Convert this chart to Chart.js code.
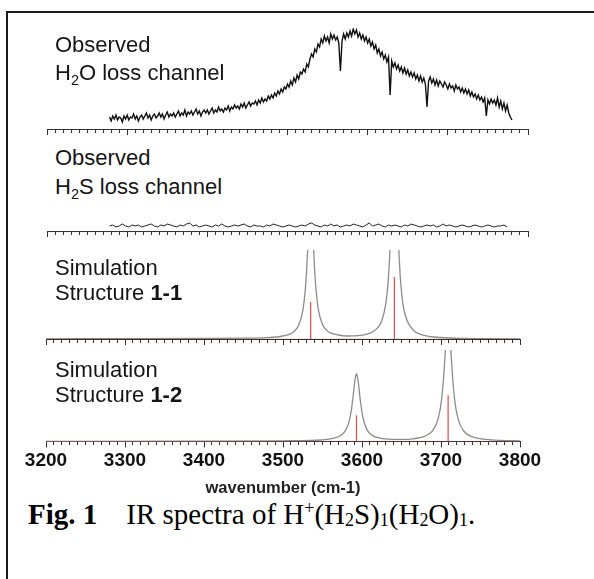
<!DOCTYPE html>
<html><head><meta charset="utf-8">
<script src="https://cdn.jsdelivr.net/npm/chart.js@4"></script>
<style>
html,body{margin:0;padding:0;background:#fff;width:594px;height:579px;overflow:hidden;position:relative;}
#frame{position:absolute;left:6px;top:11px;width:620px;height:620px;border-top:2px solid #1a1a1a;border-left:2px solid #1a1a1a;}
canvas{position:absolute;left:0;}
.lbl{position:absolute;left:55px;font-family:"Liberation Sans",Arial,sans-serif;font-size:22px;line-height:1;color:#151515;white-space:nowrap;}
.sb{font-size:0.66em;position:relative;top:0.33em;}
#cap{position:absolute;left:28px;top:500px;font-family:"Liberation Serif","Times New Roman",serif;font-size:29px;line-height:1;white-space:nowrap;color:#000;}
#cap sub{font-size:0.62em;vertical-align:-0.12em;line-height:0;}
#cap sup{font-size:0.62em;vertical-align:0.55em;line-height:0;}
</style></head>
<body>
<div id="frame"></div>
<canvas id="c1" width="594" height="150"></canvas>
<canvas id="c2" width="594" height="150"></canvas>
<canvas id="c3" width="594" height="150"></canvas>
<canvas id="c4" width="594" height="200"></canvas>
<div class="lbl" style="top:34px">Observed</div>
<div class="lbl" style="top:62px">H<span class="sb">2</span>O loss channel</div>
<div class="lbl" style="top:147px">Observed</div>
<div class="lbl" style="top:176px">H<span class="sb">2</span>S loss channel</div>
<div class="lbl" style="top:257px">Simulation</div>
<div class="lbl" style="top:282px">Structure <b>1-1</b></div>
<div class="lbl" style="top:359px">Simulation</div>
<div class="lbl" style="top:384px">Structure <b>1-2</b></div>
<div id="cap"><b>Fig. 1</b>&nbsp;&nbsp;&nbsp; IR spectra of H<sup>+</sup>(H<sub>2</sub>S)<sub>1</sub>(H<sub>2</sub>O)<sub>1</sub>.</div>
<script>
// ---- axis ----
const X_MIN = 3200, X_MAX = 3800;
const xTickLabels = ['3200','3300','3400','3500','3600','3700','3800'];
const xTitle = 'wavenumber (cm-1)';

// ---- Observed H2O loss channel (start, step in cm-1; intensity) ----
const H2O_START = 3278, H2O_STEP = 2;
const h2oLoss = [
12,8,13,10,14,9,12,11,7,13,
10,14,9,12,11,15,10,13,8,12,
14,10,13,16,11,14,9,13,15,11,
13,16,12,15,10,14,17,12,15,13,
16,12,15,18,13,16,14,19,13,17,
15,18,14,17,20,15,18,13,17,19,
16,19,15,18,21,16,19,17,22,18,
20,17,21,19,23,18,22,20,24,21,
23,20,25,22,26,21,24,27,23,26,
25,28,24,29,26,31,27,30,28,33,
30,34,31,36,33,38,35,40,37,42,
40,45,42,48,44,51,47,54,50,57,
55,60,57,65,62,70,75,72,80,77,
85,82,90,86,93,88,92,86,95,90,
94,89,92,86,58,88,95,90,96,92,
98,93,100,95,99,92,96,90,94,88,
92,86,90,83,87,80,84,76,80,73,
77,70,74,67,72,34,68,62,66,60,
64,58,62,56,61,55,59,53,57,52,
56,50,54,48,53,47,51,45,22,48,
52,46,50,44,49,43,48,45,42,47,
44,40,45,41,43,38,44,40,42,37,
41,36,40,35,39,33,37,32,35,30,
34,29,32,27,31,13,29,25,30,26,
29,24,31,22,28,20,26,18,24,16,
12,9];

// ---- Observed H2S loss channel ----
const H2S_START = 3278, H2S_STEP = 4;
const h2sLoss = [
5,6,4,5,7,5,4,6,5,6,
4,5,6,7,5,4,6,5,7,6,
5,4,6,5,7,8,5,6,4,5,
6,5,4,6,5,7,5,4,5,6,
5,6,7,5,4,6,5,5,4,6,
5,7,6,5,4,5,6,5,4,5,
6,5,7,8,6,5,4,6,5,7,
5,6,4,5,6,5,7,6,5,4,
6,8,5,6,7,5,4,6,5,6,
5,4,6,5,7,6,5,4,5,6,
5,6,4,5,7,5,6,5,4,5,
6,5,4,5,6,5,4,5,6,5,
4,5,5,6,4];

// ---- Simulation structure 1-1 ----
const sim11X = [3200,3300,3400,3450,3480,3500,3510,3515,3520,3525,3528,3529,3530,3531,3532,3535,3538,3539,3540,3541,3542,3545,3550,3555,3560,3570,3580,3590,3600,3610,3620,3625,3630,3633,3634,3635,3636,3637,3641,3645,3646,3647,3648,3649,3652,3657,3665,3680,3700,3730,3760,3800];
const sim11Y = [0.2,0.3,0.5,0.8,1.3,3.0,5.4,8.3,14.1,28.1,47.3,57.4,70.0,86.0,102.6,140,102.8,86.3,70.3,57.8,47.8,28.4,14.6,8.9,6.1,4.0,3.0,3.1,3.8,5.8,11.3,18.3,34.6,56.6,68.2,82.7,100.6,122.3,200,122.3,100.5,82.5,67.9,56.2,33.8,18.6,8.7,3.4,1.5,0.6,0.3,0.2];
const sim11StickX = [3535, 3641];
const sim11StickY = [37, 62];

// ---- Simulation structure 1-2 ----
const sim12X = [3200,3400,3500,3533,3548,3563,3573,3579,3583,3585,3587,3589,3591,3593,3595,3597,3599,3601,3603,3607,3613,3623,3638,3653,3664,3679,3689,3695,3699,3701,3703,3705,3706,3709,3712,3713,3715,3717,3719,3723,3729,3739,3754,3769,3800];
const sim12Y = [0.1,0.2,0.6,0.9,1.4,2.9,5.8,10.7,18.0,24.4,33.8,46.7,60.6,67.4,60.7,46.8,34.0,24.6,18.3,10.8,6.0,3.2,2.1,2.0,2.6,5.0,10.3,19.0,32.2,43.8,60.7,84.0,97.0,121,97.0,84.0,60.6,43.7,32.1,18.9,10.1,4.7,2.2,1.2,0.5];
const sim12StickX = [3593, 3709];
const sim12StickY = [26, 46];

// ---- helpers ----
const FONT = "'Liberation Sans', Arial, sans-serif";
Chart.defaults.font.family = FONT;

function seq(start, step, vals){ return vals.map((v,i)=>({x:start+step*i, y:v})); }
function pairs(xs, ys){ return xs.map((x,i)=>({x, y:ys[i]})); }
function sticks(xs, ys){ const d=[]; xs.forEach((x,i)=>{ d.push({x, y:0},{x, y:ys[i]},{x, y:null}); }); return d; }

const RED = 'rgb(236,70,70)';
const GRAY = '#8c8c8c';

function stickSets(xs, ys){
  return [
    {data: sticks(xs, ys), borderColor: RED, borderWidth: 1.2, pointRadius: 0, spanGaps:false, tension:0},
    {data: [{x:X_MIN,y:0},{x:X_MAX,y:0}], borderColor:'rgba(236,70,70,0.35)', borderWidth:1, pointRadius:0}
  ];
}

function config(datasets, yMax, padL, padR, showLabels){
  return {
    type:'line',
    data:{datasets},
    options:{
      responsive:false, maintainAspectRatio:false, animation:false, devicePixelRatio:1, events:[],
      layout:{padding:{left:padL, right:padR, top:0, bottom:0}},
      plugins:{legend:{display:false}, tooltip:{enabled:false}, title:{display:false}},
      elements:{point:{radius:0}},
      scales:{
        x:{type:'linear', min:X_MIN, max:X_MAX,
           ticks:{display:showLabels, stepSize:10, autoSkip:false, maxRotation:0, minRotation:0, padding:2,
                  color:'#111', font:{size:19, weight:'bold'},
                  callback:(v)=> xTickLabels.includes(String(Math.round(v))) ? String(Math.round(v)) : ''},
           grid:{display:true, drawOnChartArea:false, drawTicks:true, tickLength:6, tickColor:'#333', tickWidth:1,
                 tickBorderDash:(ctx)=> (ctx.tick && Math.round(ctx.tick.value) % 100 === 0) ? [] : [3, 20]},
           border:{display:true, color:'#333', width:1},
           title:{display:showLabels, text:xTitle, color:'#222', font:{size:16.5, weight:'bold'}, padding:{top:4, bottom:0}}
        },
        y:{display:false, min:0, max:yMax}
      }
    }
  };
}

function makePanel(id, axisY, chartH, padL, padR, datasets, showLabels){
  const cv = document.getElementById(id);
  cv.width = 594; cv.height = chartH + 120;
  let ch = new Chart(cv, config(datasets, chartH, padL, padR, showLabels));
  const below = cv.height - ch.chartArea.bottom;
  ch.destroy();
  cv.width = 594; cv.height = Math.round(chartH + below);
  cv.style.width = '594px'; cv.style.height = cv.height + 'px';
  ch = new Chart(cv, config(datasets, chartH, padL, padR, showLabels));
  cv.style.top = Math.round(axisY - ch.chartArea.bottom) + 'px';
  return ch;
}

makePanel('c1', 129, 101, 47, 66, [
  {data: seq(H2O_START, H2O_STEP, h2oLoss), borderColor:'#111', borderWidth:1.4, pointRadius:0, tension:0}
], false);

makePanel('c2', 231, 25, 47, 66, [
  {data: seq(H2S_START, H2S_STEP, h2sLoss), borderColor:'#222', borderWidth:1, pointRadius:0, tension:0}
], false);

makePanel('c3', 339, 89, 46, 74, [
  ...stickSets(sim11StickX, sim11StickY),
  {data: pairs(sim11X, sim11Y), borderColor:GRAY, borderWidth:1.3, pointRadius:0, cubicInterpolationMode:'monotone'}
], false);

makePanel('c4', 441, 91, 46, 74, [
  ...stickSets(sim12StickX, sim12StickY),
  {data: pairs(sim12X, sim12Y), borderColor:GRAY, borderWidth:1.3, pointRadius:0, cubicInterpolationMode:'monotone'}
], true);
</script>
</body></html>
